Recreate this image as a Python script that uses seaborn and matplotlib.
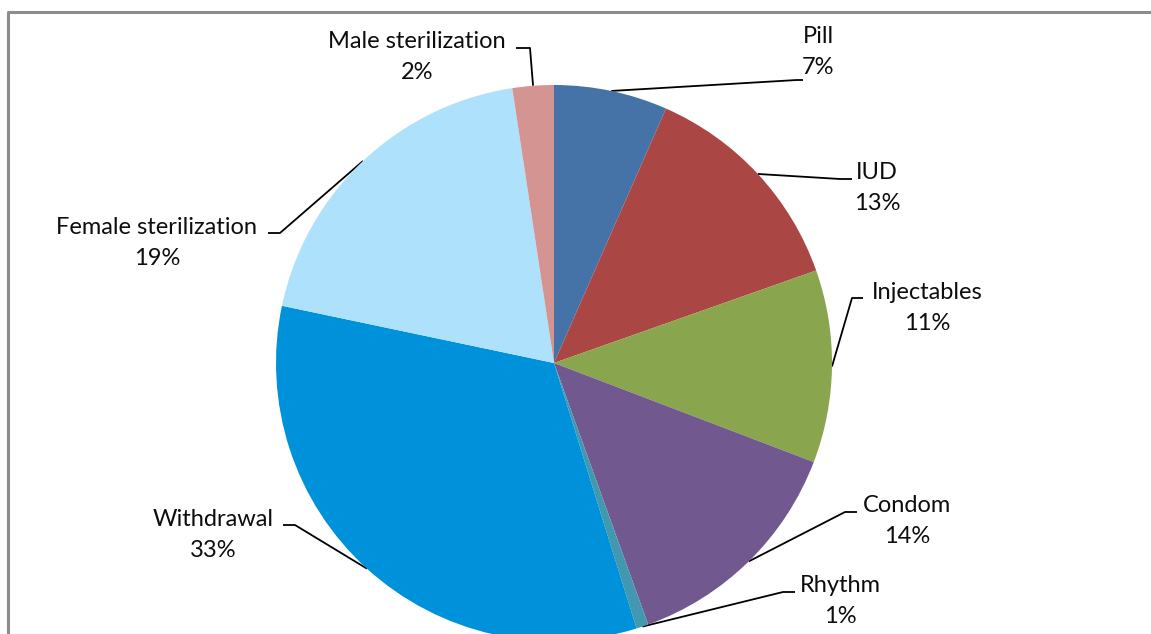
import numpy as np
import matplotlib
matplotlib.use("Agg")
import matplotlib.pyplot as plt
import seaborn as sns

# ---- data ----
methods = ["Pill", "IUD", "Injectables", "Condom", "Rhythm",
           "Withdrawal", "Female sterilization", "Male sterilization"]
shares = [6.6, 13.0, 11.2, 13.7, 0.7, 33.1, 19.3, 2.4]
colors = ["#4572A7", "#AA4643", "#89A54E", "#71588F", "#4198AF",
          "#0091DB", "#AEE2FC", "#D49592"]

# ---- label layout (pixel coords: text centre, elbow, horizontal end) ----
label_pos = {
    "Pill": (818, 52), "IUD": (877, 188), "Injectables": (927, 308),
    "Condom": (907, 521), "Rhythm": (840, 601), "Withdrawal": (213, 535),
    "Female sterilization": (157, 243), "Male sterilization": (417, 57),
}
elbows = {
    "Pill": ((797, 80), (803, 80)), "IUD": ((840, 179), (852, 179)),
    "Injectables": ((852, 298), (863, 298)), "Condom": ((845, 512), (857, 512)),
    "Rhythm": ((783, 592), (795, 592)), "Withdrawal": ((295, 525), (283, 525)),
    "Female sterilization": ((280, 233), (268, 233)),
    "Male sterilization": ((530, 48), (516, 48)),
}

W, H = 1151, 634
sns.set_theme(style="white")
plt.rcParams["font.family"] = ["Lato", "DejaVu Sans"]

fig = plt.figure(figsize=(W / 100, H / 100), dpi=100)
ax = fig.add_axes([0, 0, 1, 1])
ax.set_xlim(0, W)
ax.set_ylim(H, 0)
ax.axis("off")

cx, cy, R = 554, 363, 278
ax2 = fig.add_axes([0, 0, 1, 1])
wedges, _ = ax2.pie(shares, colors=colors, startangle=90, counterclock=False,
                    center=(cx, H - cy), radius=R, frame=True,
                    wedgeprops=dict(linewidth=0))
ax2.set_xlim(0, W)
ax2.set_ylim(0, H)
ax2.axis("off")

total = sum(shares)
cum = 0.0
for name, val in zip(methods, shares):
    mid = (cum + val / 2) / total * 2 * np.pi
    cum += val
    px = cx + R * np.sin(mid)
    py = cy - R * np.cos(mid)
    (ex, ey), (hx, hy) = elbows[name]
    ax.plot([px, ex, hx], [py, ey, hy], color="black", lw=1.3,
            solid_capstyle="butt", zorder=5)
    tx, ty = label_pos[name]
    pct = f"{round(val / total * 100):.0f}%"
    ax.text(tx, ty, f"{name}\n{pct}", ha="center", va="center",
            fontsize=17, linespacing=1.6, color="#0D0D0D", zorder=6)

# outer chart-area border (left and top visible)
ax.plot([8, 8, 1160], [H + 5, 12, 12], color="#8C8C8C", lw=2.2,
        solid_capstyle="butt", clip_on=False)

fig.savefig("out.png", dpi=100)
